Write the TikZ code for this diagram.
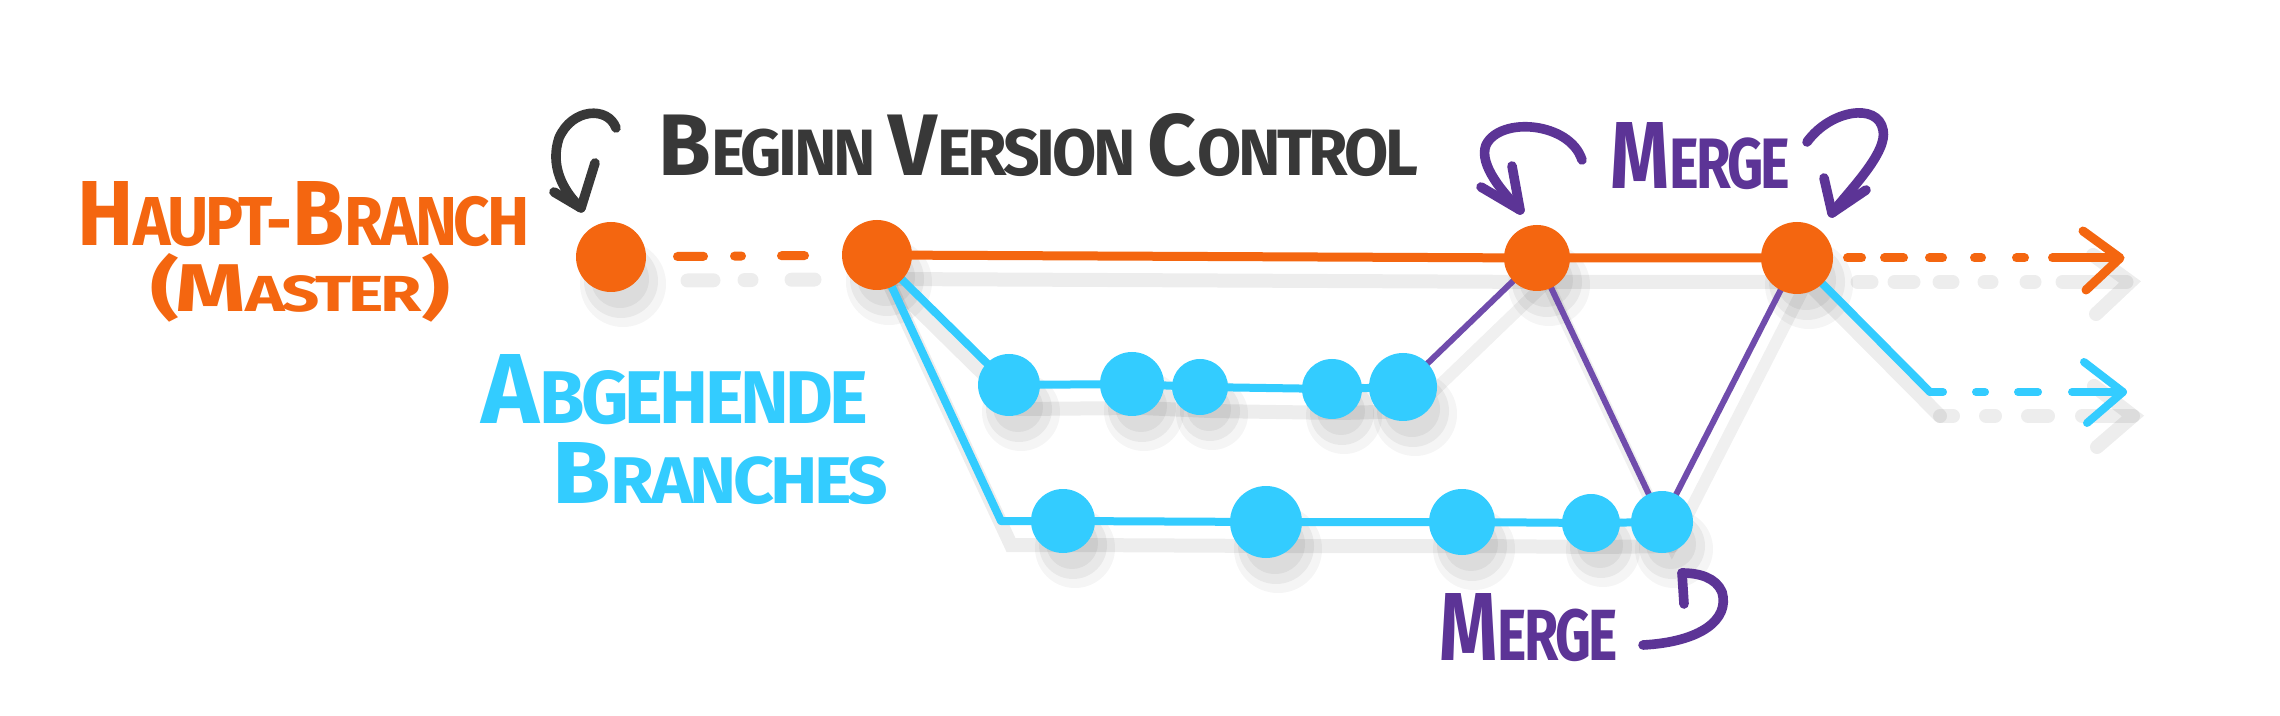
\documentclass[tikz,border=0pt]{standalone}
\usepackage{fontspec}
\setmainfont{Fira Sans}[LetterSpace=-5]
\usepackage{graphicx}
\usetikzlibrary{calc}
\pgfdeclarelayer{bg}
\pgfdeclarelayer{shadow}
\pgfdeclarelayer{lines}
\pgfsetlayers{bg,shadow,lines,main}
\definecolor{hb}{RGB}{244,102,16}
\definecolor{ab}{RGB}{51,204,255}
\definecolor{mg}{RGB}{92,52,150}
\definecolor{mgl}{RGB}{112,76,172}
\definecolor{ink}{RGB}{56,56,56}
\newcommand\BL[1]{{\fontsize{30}{30}\selectfont #1}}
\newcommand\hand[3]{\resizebox{#1}{#2}{\bfseries\fontsize{22.5}{23}\selectfont #3}}
\newcommand\commit[5]{%
  \begin{pgfonlayer}{shadow}
    \fill[black,opacity=0.04] (#2+12,#3+27) circle[radius={(#4+8)*0.5pt}];
    \fill[black,opacity=0.05] (#2+10,#3+24) circle[radius={(#4+2)*0.5pt}];
    \fill[black,opacity=0.05] (#2+9,#3+22) circle[radius={(#4-6)*0.5pt}];
  \end{pgfonlayer}
  \node[commit,fill=#5,minimum size=#4 pt] (#1) at (#2,#3) {};}
\newcommand\drawlines{%
  \draw[oline] (B.center) -- (C.center) -- (D.center);
  \draw[oline,dash pattern=on 0pt off 33.25pt on 13pt off 15.5pt on 3.5pt off 20pt on 11.5pt off 60pt] (A.center) -- (B.center);
  \draw[oline,dash pattern=on 0pt off 25.25pt on 7pt off 11.5pt on 9.5pt off 13pt on 6.5pt off 16pt on 3.5pt off 17.5pt on 4pt off 14pt on 32pt off 50pt] (D.center) -- (otip);
  \draw[oline] (oa1) -- (otip) -- (oa2);
  \draw[bline] (B.center) -- (U1.center) -- (U2.center) -- (U3.center) -- (U4.center) -- (U5.center);
  \draw[bline] (B.center) -- (bl) -- (L1.center) -- (L2.center) -- (L3.center) -- (L4.center) -- (L5.center);
  \draw[bline] (D.center) -- (bc);
  \draw[bline,dash pattern=on 6.5pt off 16.5pt on 4.5pt off 16.5pt on 10pt off 17pt on 25.5pt off 30pt] (bc) -- (btip);
  \draw[bline] (ba1) -- (btip) -- (ba2);
  \draw[pline] (U5.center) -- (C.center);
  \draw[pline] (C.center) -- (L5.center) -- (D.center);
}
\begin{document}
\begin{tikzpicture}[x=0.5pt,y=-0.5pt,
  commit/.style={circle,inner sep=0pt,draw=none},
  oline/.style={draw=hb,line width=4.5pt,line cap=round,line join=round},
  bline/.style={draw=ab,line width=4pt,line cap=round,line join=round},
  pline/.style={draw=mgl,line width=3pt,line cap=round,line join=round},
  annot/.style={line width=4.8pt,line cap=round,line join=round},
  lbl/.style={anchor=base west,inner sep=0pt}]
\useasboundingbox (0,0) rectangle (2280,716);
\begin{pgfonlayer}{bg}
\fill[white] (0,0) rectangle (2280,716);
\end{pgfonlayer}

% commits
\commit{A}{611}{257}{35}{hb}
\commit{B}{877}{255}{35}{hb}
\commit{C}{1537}{258}{33}{hb}
\commit{D}{1797}{258}{36}{hb}
\commit{U1}{1009}{385}{31}{ab}
\commit{U2}{1132}{384}{32}{ab}
\commit{U3}{1200}{387}{28}{ab}
\commit{U4}{1332}{389}{30}{ab}
\commit{U5}{1403}{387}{34}{ab}
\commit{L1}{1063}{521}{32}{ab}
\commit{L2}{1266}{522}{36}{ab}
\commit{L3}{1462}{522}{33}{ab}
\commit{L4}{1591}{523}{29}{ab}
\commit{L5}{1662}{522}{31}{ab}

\coordinate (otip) at (2120,258);
\coordinate (oa1) at (2083,231);
\coordinate (oa2) at (2086,290);
\coordinate (bl) at (1001,521);
\coordinate (bc) at (1930,392);
\coordinate (btip) at (2123,392);
\coordinate (ba1) at (2084,362);
\coordinate (ba2) at (2087,423);

\begin{pgfonlayer}{shadow}
\begin{scope}[transform canvas={shift={(5pt,-12pt)}},
  oline/.style={draw=black,opacity=0.07,line width=7pt,line cap=round},
  bline/.style={draw=black,opacity=0.07,line width=7pt,line cap=round},
  pline/.style={draw=black,opacity=0.06,line width=6pt,line cap=round}]
\drawlines
\end{scope}
\end{pgfonlayer}
\begin{pgfonlayer}{lines}
\drawlines
\end{pgfonlayer}

% annotation arrows
\coordinate (k1s) at (616,128);
\coordinate (k1t) at (581,208);
\coordinate (k1a) at (554,192);
\coordinate (k1b) at (595,163);
\draw[annot,ink] (k1s) .. controls (608,106) and (572,108) .. (559,138) .. controls (550,165) and (562,190) .. (k1t);
\draw[annot,ink] (k1a) -- (k1t) -- (k1b);

\coordinate (m1s) at (1582,160);
\coordinate (m1t) at (1520,210);
\coordinate (m1a) at (1481,187);
\coordinate (m1b) at (1512,166);
\draw[annot,mg] (m1s) .. controls (1570,122) and (1500,116) .. (1486,145) .. controls (1478,165) and (1505,195) .. (m1t);
\draw[annot,mg] (m1a) -- (m1t) -- (m1b);

\coordinate (m2s) at (1807,142);
\coordinate (m2t) at (1832,213);
\coordinate (m2a) at (1824,178);
\coordinate (m2b) at (1866,190);
\draw[annot,mg] (m2s) .. controls (1830,110) and (1878,102) .. (1883,130) .. controls (1888,152) and (1850,190) .. (m2t);
\draw[annot,mg] (m2a) -- (m2t) -- (m2b);

\coordinate (m3s) at (1643,645);
\coordinate (m3t) at (1682,573);
\coordinate (m3a) at (1684,604);
\draw[annot,mg] (m3s) .. controls (1700,642) and (1730,620) .. (1722,592) .. controls (1716,578) and (1700,573) .. (m3t);
\draw[annot,mg] (m3t) -- (m3a);

% labels
\node[lbl,text=hb] (haupt) at (77,246) {\hand{226pt}{32pt}{\BL{H}AUPT-\BL{B}RANCH}};
\node[lbl,text=hb] (master) at (150,312) {\hand{150pt}{29pt}{\BL{(}\BL{M}ASTER\BL{)}}};
\node[lbl,text=ink] (beginn) at (658,176) {\hand{380pt}{31pt}{\BL{B}EGINN \BL{V}ERSION \BL{C}ONTROL}};
\node[lbl,text=mg] (merge1) at (1610,189) {\hand{90pt}{33pt}{\BL{M}ERGE}};
\node[lbl,text=ab] (abg) at (481,424) {\hand{193.5pt}{34.5pt}{\BL{A}BGEHENDE}};
\node[lbl,text=ab] (bra) at (552,503) {\hand{168pt}{30.5pt}{\BL{B}RANCHES}};
\node[lbl,text=mg] (merge2) at (1439,660) {\hand{89pt}{33.5pt}{\BL{M}ERGE}};
\end{tikzpicture}
\end{document}
